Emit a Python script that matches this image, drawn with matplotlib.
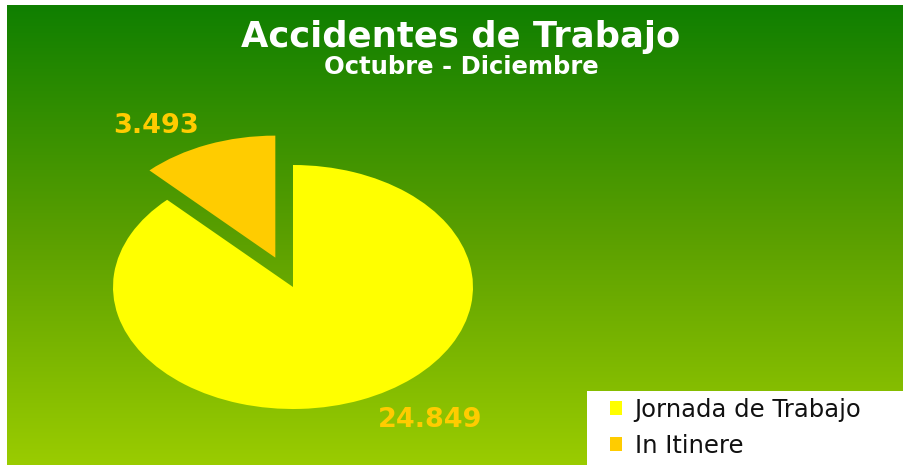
import numpy as np
import matplotlib
matplotlib.use("Agg")
import matplotlib.pyplot as plt
from matplotlib.colors import LinearSegmentedColormap
from matplotlib.patches import Rectangle

categories = ["Jornada de Trabajo", "In Itinere"]
values = [24849, 3493]
value_labels = ["24.849", "3.493"]
colors = ["#ffff00", "#ffcc00"]
title = "Accidentes de Trabajo"
subtitle = "Octubre - Diciembre"

W, H = 904, 465
fig = plt.figure(figsize=(W / 100, H / 100), dpi=100)
fig.patch.set_facecolor("white")

# gradient background
bg = fig.add_axes([7 / W, 0, 1 - 7 / W, 460 / H])
cmap = LinearSegmentedColormap.from_list("g", ["#0f7f00", "#5a9f00", "#9acc00"])
grad = np.linspace(0, 1, 256).reshape(-1, 1)
bg.imshow(grad, aspect="auto", cmap=cmap, extent=[0, 1, 0, 1], origin="upper")
bg.set_axis_off()

# pie axes: center at pixel (293,287), rx=180px, ry=122px
rx, ry = 180, 122
cx, cy = 293, 287
xl = (-1.5, 1.5)
yl = (-1.4, 1.5)
left = cx + xl[0] * rx
right = cx + xl[1] * rx
top = cy - yl[1] * ry
bottom = cy - yl[0] * ry
ax = fig.add_axes([left / W, (H - bottom) / H, (right - left) / W, (bottom - top) / H])
ax.patch.set_alpha(0)
wedges, _ = ax.pie(values, colors=colors, startangle=90, counterclock=False,
                   explode=[0, 0.26], wedgeprops=dict(linewidth=0))
ax.set_aspect("auto")
ax.set_xlim(*xl)
ax.set_ylim(*yl)
ax.set_axis_off()

ax.text(0.76, -1.09, value_labels[0], color="#ffcc00", fontsize=19.5, fontweight="bold",
        ha="center", va="center")
ax.text(-0.76, 1.32, value_labels[1], color="#ffcc00", fontsize=19.5, fontweight="bold",
        ha="center", va="center")

fig.text(461 / W, 1 - 37 / H, title, color="white", fontsize=25.5, fontweight="bold",
         ha="center", va="center")
fig.text(461 / W, 1 - 67 / H, subtitle, color="white", fontsize=17.5, fontweight="bold",
         ha="center", va="center")

# legend box
fig.patches.append(Rectangle((587 / W, 0), 1 - 587 / W, 74 / H, transform=fig.transFigure,
                             facecolor="white", edgecolor="none", zorder=5))
leg = fig.legend(wedges, categories, loc="lower left",
                 bbox_to_anchor=(603 / W, 0, 297 / W, 74 / H),
                 borderaxespad=0, frameon=False, fontsize=17.5, handlelength=0.5,
                 handleheight=0.5, handletextpad=0.5, labelspacing=0.5,
                 borderpad=0.3)
leg.set_zorder(6)
for t in leg.get_texts():
    t.set_color("#111111")

fig.savefig("out.png", dpi=100, facecolor=fig.get_facecolor())
